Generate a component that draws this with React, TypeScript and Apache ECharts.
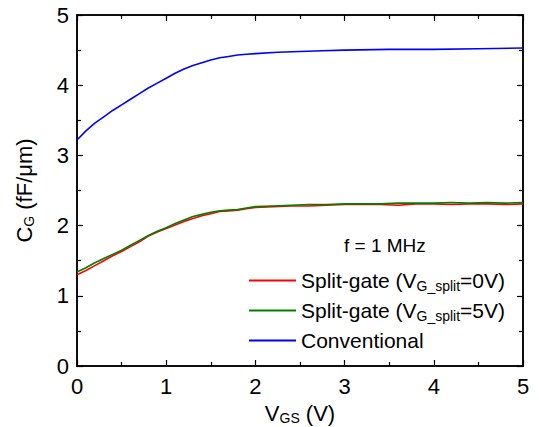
import React, { useEffect, useRef } from "react";
import * as echarts from "echarts";

const xConv = [0, 0.1, 0.2, 0.3, 0.4, 0.5, 0.6, 0.7, 0.8, 0.9, 1.0, 1.1, 1.2, 1.3, 1.4, 1.5, 1.6, 1.7, 1.8, 1.9, 2.0, 2.25, 2.5, 2.75, 3.0, 3.5, 4.0, 4.5, 5.0];
const yConv = [3.22, 3.35, 3.46, 3.55, 3.64, 3.72, 3.8, 3.88, 3.96, 4.03, 4.1, 4.17, 4.23, 4.28, 4.32, 4.36, 4.39, 4.41, 4.43, 4.44, 4.45, 4.47, 4.48, 4.49, 4.5, 4.51, 4.51, 4.52, 4.53];

const xSplit = [0, 0.1, 0.2, 0.3, 0.4, 0.5, 0.6, 0.7, 0.8, 0.9, 1.0, 1.1, 1.2, 1.3, 1.4, 1.5, 1.6, 1.7, 1.8, 1.9, 2.0, 2.2, 2.4, 2.6, 2.8, 3.0, 3.2, 3.4, 3.6, 3.8, 4.0, 4.2, 4.4, 4.6, 4.8, 5.0];
const ySplit5V = [1.34, 1.4, 1.47, 1.53, 1.59, 1.65, 1.72, 1.79, 1.86, 1.92, 1.97, 2.03, 2.08, 2.13, 2.16, 2.19, 2.21, 2.22, 2.23, 2.25, 2.27, 2.28, 2.29, 2.3, 2.3, 2.31, 2.31, 2.31, 2.32, 2.32, 2.32, 2.33, 2.32, 2.33, 2.32, 2.33];
const ySplit0V = [1.3, 1.36, 1.43, 1.5, 1.57, 1.63, 1.7, 1.77, 1.85, 1.91, 1.96, 2.01, 2.06, 2.1, 2.14, 2.17, 2.2, 2.21, 2.22, 2.24, 2.26, 2.27, 2.28, 2.28, 2.29, 2.3, 2.3, 2.3, 2.29, 2.31, 2.31, 2.3, 2.31, 2.31, 2.3, 2.31];

const xTicks = ["0", "1", "2", "3", "4", "5"];
const yTicks = ["0", "1", "2", "3", "4", "5"];

const FONT = "Liberation Sans, Arial, sans-serif";

export default function App() {
  const ref = useRef<HTMLDivElement>(null);
  useEffect(() => {
    if (!ref.current) return;
    const chart = echarts.init(ref.current, undefined, { renderer: "svg" });
    const pair = (xs: number[], ys: number[]) => xs.map((x, i) => [x, ys[i]]);
    const tickCommon = {
      show: true,
      axisLine: { show: true, onZero: false, lineStyle: { color: "#000", width: 1.5 } },
      axisTick: { show: true, inside: true, length: 6, lineStyle: { color: "#000", width: 1.2 } },
      minorTick: { show: true, splitNumber: 2, length: 4, lineStyle: { color: "#000", width: 1.2 } },
      splitLine: { show: false },
      min: 0,
      max: 5,
      interval: 1,
    };
    const sub = { fontSize: 14, fontFamily: FONT, color: "#000", padding: [10, 0, 0, 0] };
    const legendRich = {
      n: { fontSize: 21, fontFamily: FONT, color: "#000" },
      s: { fontSize: 14, fontFamily: FONT, color: "#000", padding: [10, 0, 0, 0] },
    };
    chart.setOption({
      animation: false,
      textStyle: { fontFamily: FONT },
      grid: {
        left: 77,
        right: 16,
        top: 15,
        bottom: 61,
        containLabel: false,
        outerBoundsMode: "none",
        show: true,
        borderColor: "#000",
        borderWidth: 1.5,
        backgroundColor: "transparent",
      },
      xAxis: [
        {
          type: "value",
          position: "bottom",
          ...tickCommon,
          axisLabel: {
            fontSize: 22,
            fontFamily: FONT,
            color: "#000",
            margin: 9,
            formatter: (v: number) => xTicks[Math.round(v)] ?? "",
          },
          name: "{n|V}{s|GS}{n| (V)}",
          nameLocation: "middle",
          nameGap: 35,
          nameTextStyle: {
            rich: {
              n: { fontSize: 22, fontFamily: FONT, color: "#000" },
              s: sub,
            },
          },
        },
        {
          type: "value",
          position: "top",
          ...tickCommon,
          axisLabel: { show: false },
        },
      ],
      yAxis: [
        {
          type: "value",
          position: "left",
          ...tickCommon,
          axisLabel: {
            fontSize: 22,
            fontFamily: FONT,
            color: "#000",
            margin: 8,
            formatter: (v: number) => yTicks[Math.round(v)] ?? "",
          },
          name: "{n|C}{s|G}{n| (fF/μm)}",
          nameLocation: "middle",
          nameGap: 41,
          nameRotate: 90,
          nameTextStyle: {
            rich: {
              n: { fontSize: 22, fontFamily: FONT, color: "#000" },
              s: sub,
            },
          },
        },
        {
          type: "value",
          position: "right",
          ...tickCommon,
          axisLabel: { show: false },
        },
      ],
      legend: {
        orient: "vertical",
        left: 249,
        top: 270,
        padding: 0,
        itemWidth: 47,
        itemHeight: 2,
        itemGap: 7.5,
        icon: "rect",
        data: ["split0", "split5", "conv"],
        formatter: (name: string) => {
          if (name === "split0") return "{n|Split-gate (V}{s|G_split}{n|=0V)}";
          if (name === "split5") return "{n|Split-gate (V}{s|G_split}{n|=5V)}";
          return "{n|Conventional}";
        },
        textStyle: { rich: legendRich },
      },
      graphic: [
        {
          type: "text",
          left: 344,
          top: 236,
          style: { text: "f = 1 MHz", fontSize: 19, fontFamily: FONT, fill: "#000" },
        },
      ],
      series: [
        {
          name: "split0",
          type: "line",
          data: pair(xSplit, ySplit0V),
          showSymbol: false,
          symbol: "none",
          lineStyle: { color: "#ff0000", width: 1.6 },
          itemStyle: { color: "#ff0000" },
          z: 3,
        },
        {
          name: "split5",
          type: "line",
          data: pair(xSplit, ySplit5V),
          showSymbol: false,
          symbol: "none",
          lineStyle: { color: "#008000", width: 1.6 },
          itemStyle: { color: "#008000" },
          z: 4,
        },
        {
          name: "conv",
          type: "line",
          data: pair(xConv, yConv),
          showSymbol: false,
          symbol: "none",
          lineStyle: { color: "#0000ff", width: 1.6 },
          itemStyle: { color: "#0000ff" },
          z: 5,
        },
        {
          name: "frame",
          type: "line",
          xAxisIndex: 1,
          yAxisIndex: 1,
          data: [],
          showSymbol: false,
          silent: true,
        },
      ],
    });
    return () => chart.dispose();
  }, []);
  return (
    <div
      ref={ref}
      style={{ position: "absolute", left: 0, top: 0, width: 539, height: 427 }}
    />
  );
}
